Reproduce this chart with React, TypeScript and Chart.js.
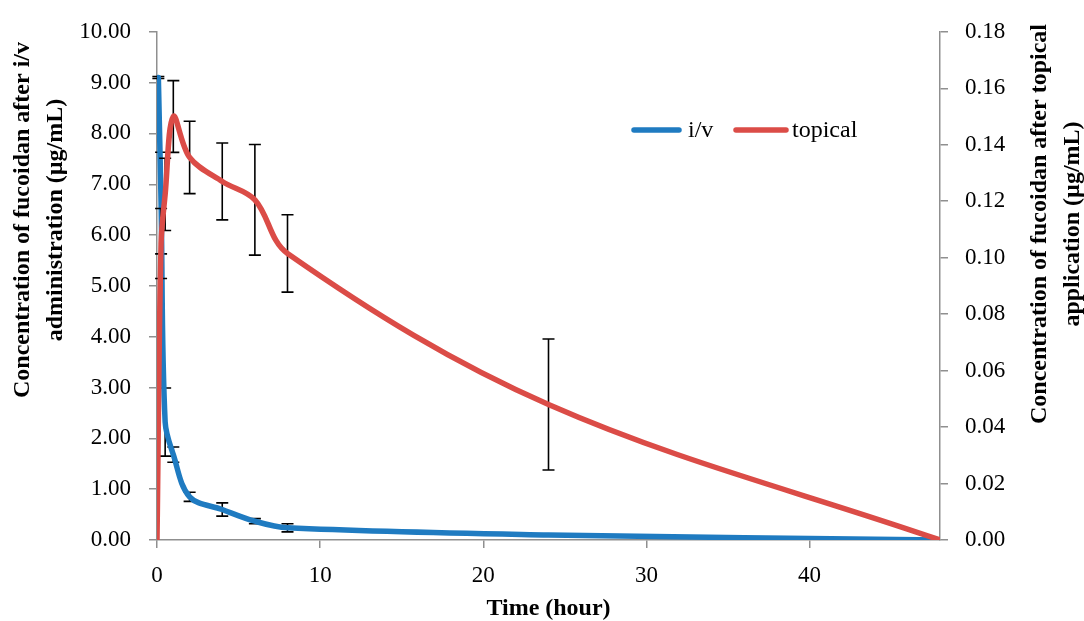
import React, { useEffect, useRef } from 'react';
import { Chart, registerables } from 'chart.js';

Chart.register(...registerables);

// ---- data ----
const IV_TIME = [0.083, 0.25, 0.5, 1, 2, 4, 6, 8, 24, 48];
const IV_CONC = [9.1, 6.63, 2.32, 1.68, 0.85, 0.6, 0.37, 0.24, 0.1, 0];
const IV_SD = [0.02, 1.0, 0.67, 0.15, 0.09, 0.13, 0.05, 0.08, 0.02, 0];

const TOP_TIME = [0, 0.25, 0.5, 1, 2, 4, 6, 8, 24, 48];
const TOP_CONC = [0, 0.105, 0.1224, 0.15, 0.1355, 0.127, 0.1205, 0.1015, 0.048, 0];
const TOP_SD = [0, 0.0124, 0.0128, 0.0127, 0.0128, 0.0136, 0.0196, 0.0137, 0.0232, 0];

const X_TICKS = [0, 10, 20, 30, 40];
const LEFT_TICKS = [0, 1, 2, 3, 4, 5, 6, 7, 8, 9, 10];
const RIGHT_TICKS = [0, 0.02, 0.04, 0.06, 0.08, 0.1, 0.12, 0.14, 0.16, 0.18];

const SERIES_LABELS = ['i/v', 'topical'];
const X_TITLE = 'Time (hour)';
const LEFT_TITLE = ['Concentration of fucoidan after i/v', 'administration (µg/mL)'];
const RIGHT_TITLE = ['Concentration of fucoidan after topical', 'application (µg/mL)'];

// ---- styles ----
const BLUE = '#1f7bc1';
const RED = '#db4c47';
const AXIS = '#8f8f8f';
const FONT = '"Liberation Serif", "Times New Roman", serif';
const TICK_SIZE = 23;
const LEGEND_SIZE = 24;
const TITLE_SIZE = 24;

const errorBarPlugin = {
  id: 'errorBars',
  beforeDatasetDraw(chart: any, args: any) {
    const ds = chart.data.datasets[args.index];
    const errs: number[] = ds.errors;
    if (!errs) return;
    const { ctx, chartArea } = chart;
    const xs = chart.scales.x;
    const ys = chart.scales[ds.yAxisID];
    ctx.save();
    ctx.beginPath();
    ctx.rect(0, chartArea.top, chart.width, chartArea.bottom - chartArea.top);
    ctx.clip();
    ctx.strokeStyle = '#000';
    ctx.lineWidth = 1.6;
    ds.data.forEach((p: any, i: number) => {
      const e = errs[i];
      if (!e) return;
      const x = xs.getPixelForValue(p.x);
      const y1 = ys.getPixelForValue(p.y + e);
      const y2 = ys.getPixelForValue(p.y - e);
      ctx.beginPath();
      ctx.moveTo(x, y1);
      ctx.lineTo(x, y2);
      ctx.moveTo(x - 6, y1);
      ctx.lineTo(x + 6, y1);
      ctx.moveTo(x - 6, y2);
      ctx.lineTo(x + 6, y2);
      ctx.stroke();
    });
    ctx.restore();
  },
};

const decorPlugin = {
  id: 'decor',
  afterDraw(chart: any) {
    const { ctx } = chart;
    ctx.save();
    // axis titles (rotated, reading bottom-to-top)
    ctx.fillStyle = '#000';
    ctx.font = `bold ${TITLE_SIZE}px ${FONT}`;
    ctx.textAlign = 'center';
    ctx.textBaseline = 'middle';
    const drawRot = (text: string, x: number, y: number) => {
      ctx.save();
      ctx.translate(x, y);
      ctx.rotate(-Math.PI / 2);
      ctx.fillText(text, 0, 0);
      ctx.restore();
    };
    drawRot(LEFT_TITLE[0], 23, 220);
    drawRot(LEFT_TITLE[1], 56, 220);
    drawRot(RIGHT_TITLE[0], 1040, 224);
    drawRot(RIGHT_TITLE[1], 1073, 224);

    // legend
    const items = [
      { x1: 634, x2: 679, tx: 688, color: chart.data.datasets[1].borderColor, label: chart.data.datasets[1].label },
      { x1: 736, x2: 786, tx: 792, color: chart.data.datasets[0].borderColor, label: chart.data.datasets[0].label },
    ];
    const ly = 130;
    ctx.font = `${LEGEND_SIZE}px ${FONT}`;
    ctx.textAlign = 'left';
    items.forEach((it) => {
      ctx.strokeStyle = it.color;
      ctx.lineWidth = 5.5;
      ctx.lineCap = 'round';
      ctx.beginPath();
      ctx.moveTo(it.x1, ly);
      ctx.lineTo(it.x2, ly);
      ctx.stroke();
      ctx.fillStyle = '#000';
      ctx.fillText(it.label, it.tx, ly + 1);
    });
    ctx.restore();
  },
};

export default function App() {
  const ref = useRef<HTMLCanvasElement | null>(null);

  useEffect(() => {
    document.body.style.margin = '0';
    const canvas = ref.current;
    if (!canvas) return;

    const tickFont = { family: FONT, size: TICK_SIZE };
    const gridOpts = { drawOnChartArea: false, drawTicks: true, tickLength: 8, color: AXIS, lineWidth: 1.5 };
    const borderOpts = { display: true, color: AXIS, width: 1.5 };

    const chart = new Chart(canvas, {
      type: 'line',
      data: {
        datasets: [
          {
            label: SERIES_LABELS[1],
            data: TOP_TIME.map((t, i) => ({ x: t, y: TOP_CONC[i] })),
            errors: TOP_SD,
            yAxisID: 'y1',
            borderColor: RED,
            backgroundColor: RED,
            borderWidth: 5.5,
            pointRadius: 0,
            tension: 0.35,
            borderCapStyle: 'round',
            borderJoinStyle: 'round',
            order: 0,
          } as any,
          {
            label: SERIES_LABELS[0],
            data: IV_TIME.map((t, i) => ({ x: t, y: IV_CONC[i] })),
            errors: IV_SD,
            yAxisID: 'y',
            borderColor: BLUE,
            backgroundColor: BLUE,
            borderWidth: 5.5,
            pointRadius: 0,
            tension: 0.35,
            borderCapStyle: 'round',
            borderJoinStyle: 'round',
            order: 1,
          } as any,
        ],
      },
      options: {
        animation: false,
        responsive: false,
        maintainAspectRatio: false,
        layout: { padding: { top: 24, left: 0, right: 0, bottom: 0 } },
        plugins: {
          legend: { display: false },
          tooltip: { enabled: false },
        },
        scales: {
          x: {
            type: 'linear',
            min: 0,
            max: 48,
            afterBuildTicks: (s: any) => {
              s.ticks = X_TICKS.map((v) => ({ value: v }));
            },
            afterFit: (s: any) => {
              s.height = 81;
            },
            ticks: { font: tickFont, color: '#000', padding: 14, maxRotation: 0, callback: (v: any) => String(v) },
            grid: gridOpts,
            border: borderOpts,
            title: {
              display: true,
              text: X_TITLE,
              color: '#000',
              font: { family: FONT, size: TITLE_SIZE, weight: 'bold', lineHeight: 1 },
              padding: { top: 0, bottom: 0 },
            },
          },
          y: {
            type: 'linear',
            position: 'left',
            min: 0,
            max: 10,
            afterBuildTicks: (s: any) => {
              s.ticks = LEFT_TICKS.map((v) => ({ value: v }));
            },
            afterFit: (s: any) => {
              s.width = 157;
            },
            ticks: { font: tickFont, color: '#000', padding: 18, callback: (v: any) => Number(v).toFixed(2) },
            grid: gridOpts,
            border: borderOpts,
          },
          y1: {
            type: 'linear',
            position: 'right',
            min: 0,
            max: 0.18,
            afterBuildTicks: (s: any) => {
              s.ticks = RIGHT_TICKS.map((v) => ({ value: v }));
            },
            afterFit: (s: any) => {
              s.width = 144;
            },
            ticks: { font: tickFont, color: '#000', padding: 17, callback: (v: any) => Number(v).toFixed(2) },
            grid: gridOpts,
            border: borderOpts,
          },
        },
      } as any,
      plugins: [errorBarPlugin, decorPlugin],
    });

    return () => {
      chart.destroy();
    };
  }, []);

  return (
    <div style={{ width: 1084, height: 621 }}>
      <canvas ref={ref} width={1084} height={621} style={{ display: 'block' }} />
    </div>
  );
}
